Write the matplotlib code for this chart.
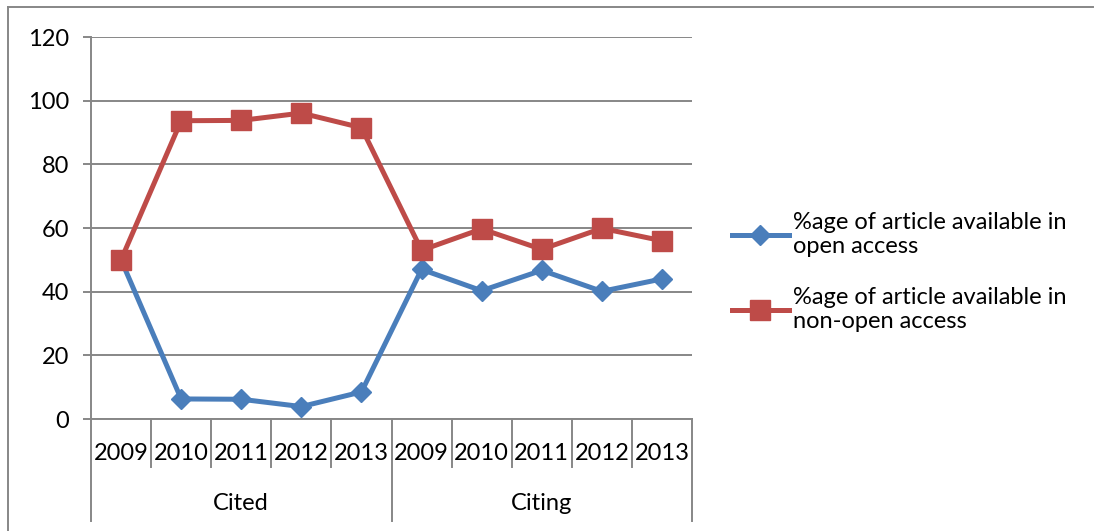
import matplotlib
matplotlib.use("Agg")
import matplotlib.pyplot as plt
from matplotlib.lines import Line2D
from matplotlib.transforms import blended_transform_factory

groups = ["Cited", "Citing"]
years = ["2009", "2010", "2011", "2012", "2013"]
open_access = [50, 6.3, 6.2, 3.9, 8.5, 47, 40.3, 46.7, 40.1, 44]
non_open_access = [50, 93.7, 93.8, 96.1, 91.5, 53, 59.7, 53.3, 59.9, 56]
labels = ["%age of article available in\nopen access",
          "%age of article available in\nnon-open access"]

plt.rcParams['font.family'] = ['Lato', 'DejaVu Sans']
grey = "#878787"
blue = "#4A7EBB"
red = "#BE4B48"
W, H = 1094, 531
fs = 17

fig = plt.figure(figsize=(W / 100, H / 100), dpi=100)
ax = fig.add_axes([91 / W, 1 - 419 / H, (692 - 91) / W, (419 - 37) / H])

x = list(range(len(groups) * len(years)))
ax.plot(x, open_access, color=blue, lw=3.6, marker='D', ms=10, label=labels[0], zorder=3)
ax.plot(x, non_open_access, color=red, lw=3.6, marker='s', ms=14, label=labels[1], zorder=4)

ax.set_xlim(-0.5, len(x) - 0.5)
ax.set_ylim(0, 120)
ax.set_yticks(range(0, 121, 20))
ax.yaxis.grid(True, color=grey, lw=1.4)
ax.set_axisbelow(True)
for s in ["top", "right"]:
    ax.spines[s].set_visible(False)
for s in ["left", "bottom"]:
    ax.spines[s].set_color(grey)
    ax.spines[s].set_linewidth(1.4)
ax.tick_params(axis='y', direction='out', length=6, width=1.4, color=grey,
               labelsize=fs, pad=10)
ax.set_xticks([])

# multi-level category axis
tr = blended_transform_factory(ax.transData, ax.transAxes)
yr_low = -(467 - 419) / (419 - 37)
grp_low = -(521 - 419) / (419 - 37)
n = len(years)
for i in range(len(x) + 1):
    low = grp_low if i % n == 0 else yr_low
    ax.plot([i - 0.5, i - 0.5], [0, low], transform=tr, color=grey, lw=1.4, clip_on=False)
for i in x:
    ax.text(i, -(453 - 419) / 382, years[i % n], transform=tr, ha='center', va='center', fontsize=fs)
for g, name in enumerate(groups):
    ax.text(g * n + (n - 1) / 2, -(503 - 419) / 382, name, transform=tr,
            ha='center', va='center', fontsize=fs)

ax.legend(loc='center left', bbox_to_anchor=(732 / W, 1 - 272 / H),
          bbox_transform=fig.transFigure, frameon=False, fontsize=fs,
          handlelength=2.4, handletextpad=0.17, labelspacing=1.25, borderpad=0,
          borderaxespad=0)

# outer chart border (left and top edges)
fig.add_artist(Line2D([8 / W, 8 / W], [0, 1 - 7 / H], color=grey, lw=1.4))
fig.add_artist(Line2D([8 / W, 1093 / W], [1 - 7 / H, 1 - 7 / H], color=grey, lw=1.4))

fig.savefig("out.png", dpi=100)
